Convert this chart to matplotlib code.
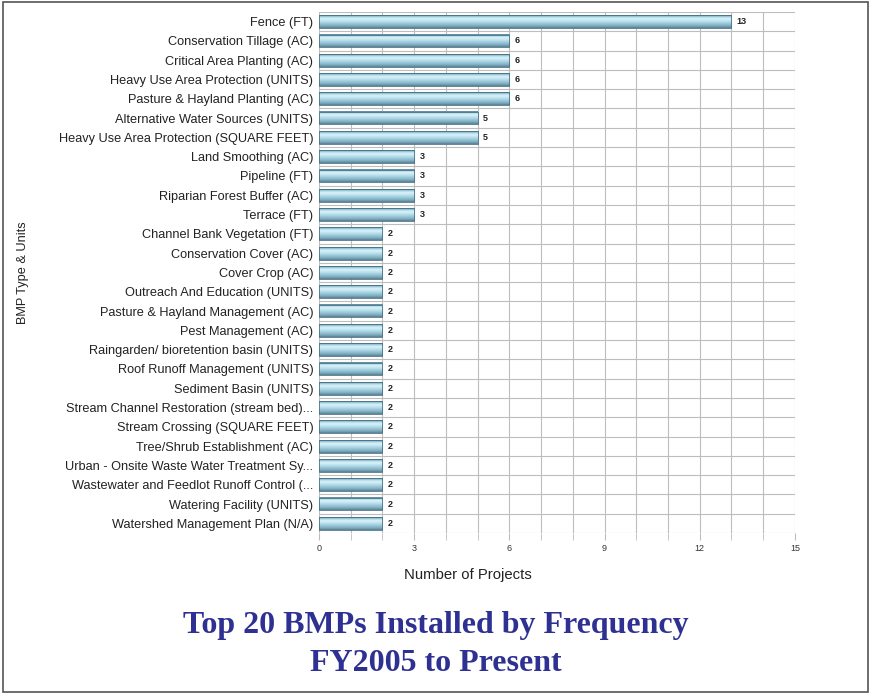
import numpy as np
import matplotlib.pyplot as plt
from matplotlib.colors import LinearSegmentedColormap
from matplotlib.patches import Rectangle

# BMP categories and project counts
bmps = ['Fence (FT)', 'Conservation Tillage (AC)', 'Critical Area Planting (AC)',
        'Heavy Use Area Protection (UNITS)', 'Pasture & Hayland Planting (AC)',
        'Alternative Water Sources (UNITS)', 'Heavy Use Area Protection (SQUARE FEET)',
        'Land Smoothing (AC)', 'Pipeline (FT)', 'Riparian Forest Buffer (AC)',
        'Terrace (FT)', 'Channel Bank Vegetation (FT)', 'Conservation Cover (AC)',
        'Cover Crop (AC)', 'Outreach And Education (UNITS)',
        'Pasture & Hayland Management (AC)', 'Pest Management (AC)',
        'Raingarden/ bioretention basin (UNITS)', 'Roof Runoff Management (UNITS)',
        'Sediment Basin (UNITS)', 'Stream Channel Restoration (stream bed)...',
        'Stream Crossing (SQUARE FEET)', 'Tree/Shrub Establishment (AC)',
        'Urban - Onsite Waste Water Treatment Sy...',
        'Wastewater and Feedlot Runoff Control (...',
        'Watering Facility (UNITS)', 'Watershed Management Plan (N/A)']
counts = [13, 6, 6, 6, 6, 5, 5, 3, 3, 3, 3, 2, 2, 2, 2, 2, 2, 2, 2, 2, 2, 2, 2, 2, 2, 2, 2]
xticks = [0, 3, 6, 9, 12, 15]

plt.rcParams['font.family'] = ['Liberation Sans', 'DejaVu Sans']

fig = plt.figure(figsize=(8.71, 6.94), dpi=100)
# outer frame
fig.patches.append(Rectangle((0.003, 0.003), 0.994, 0.994, transform=fig.transFigure,
                             fill=False, edgecolor='#555555', linewidth=1.2))

ax = fig.add_axes([0.3662, 0.232, 0.5465, 0.7508])
n = len(bmps)
y = np.arange(n)
bh = 0.66

# tube-like shading, top to bottom of each bar
cmap = LinearSegmentedColormap.from_list('tube', [(0.0, '#4a768c'), (0.12, '#a3d3e4'),
                                                  (0.28, '#dcf3f9'), (0.55, '#acd7e7'),
                                                  (0.85, '#7caabd'), (1.0, '#587f94')])
grad = np.linspace(0, 1, 64).reshape(-1, 1)
for yi, c in zip(y, counts):
    ax.imshow(grad, aspect='auto', cmap=cmap, interpolation='bilinear',
              extent=(0, c, yi + bh / 2, yi - bh / 2), zorder=3)
    ax.add_patch(Rectangle((0, yi - bh / 2), c, bh, fill=False,
                           edgecolor='#4a7185', linewidth=0.6, zorder=4))
    ax.text(c + 0.17, yi, str(c), va='center', ha='left', fontsize=6.5,
            fontweight='bold', color='#222222', zorder=5)

ax.set_xlim(0, 15)
ax.set_ylim(n - 0.5, -0.5)
ax.set_yticks(y)
ax.set_yticklabels(bmps, fontsize=9.2, color='#222222')
ax.set_xticks(xticks)
ax.set_xticklabels([str(t) for t in xticks], fontsize=6.5, color='#333333')
ax.set_xticks(np.arange(0, 16), minor=True)
ax.set_yticks(np.arange(-0.5, n), minor=True)
ax.grid(which='minor', color='#bdbdbd', linewidth=0.8, zorder=0)
ax.grid(which='major', axis='x', color='#bdbdbd', linewidth=0.8, zorder=0)
ax.tick_params(axis='y', which='both', length=0, pad=4)
ax.tick_params(axis='x', which='both', length=5, color='#bdbdbd', pad=3)
for s in ax.spines.values():
    s.set_visible(False)

ax.set_xlabel('Number of Projects', fontsize=10.7, color='#222222')
ax.xaxis.set_label_coords(0.313, -0.068)
ax.set_ylabel('BMP Type & Units', fontsize=9.2, color='#222222')
ax.yaxis.set_label_coords(-0.61, 0.5)

fig.text(0.5, 0.098, 'Top 20 BMPs Installed by Frequency', ha='center', va='center',
         fontsize=23, fontweight='bold', color='#2e3192', family='Liberation Serif')
fig.text(0.5, 0.044, 'FY2005 to Present', ha='center', va='center',
         fontsize=23, fontweight='bold', color='#2e3192', family='Liberation Serif')

fig.savefig('out.png', dpi=100)
